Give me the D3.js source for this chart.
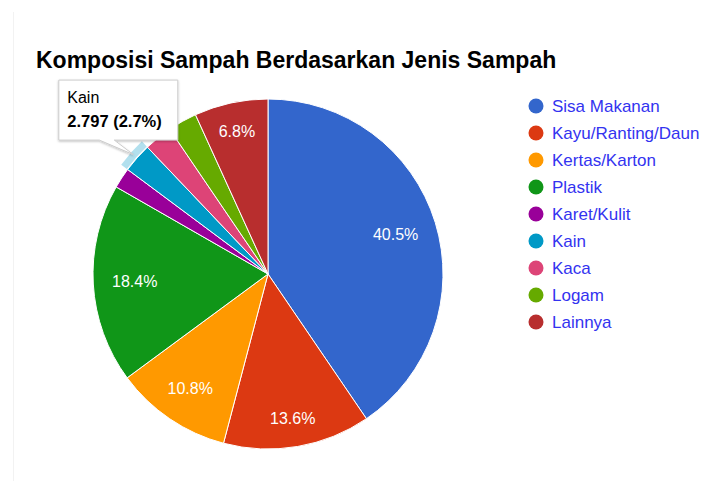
<!DOCTYPE html>
<html>
<head>
<meta charset="utf-8">
<script src="https://cdn.jsdelivr.net/npm/d3@7"></script>
<style>
  body { margin: 0; background: #fff; }
  svg { display: block; font-family: Arial, "Liberation Sans", sans-serif; }
</style>
</head>
<body>
<svg id="chart" width="703" height="481"></svg>
<script>
// data
const jenis = ["Sisa Makanan", "Kayu/Ranting/Daun", "Kertas/Karton", "Plastik", "Karet/Kulit", "Kain", "Kaca", "Logam", "Lainnya"];
const jumlah = [41.715, 14.008, 11.124, 18.952, 1.957, 2.797, 2.678, 2.781, 7.004];
const warna = ["#3366cc", "#dc3912", "#ff9900", "#109618", "#990099", "#0099c6", "#dd4477", "#66aa00", "#b82e2e"];
const judul = "Komposisi Sampah Berdasarkan Jenis Sampah";
const hoverIdx = 5; // Kain

const W = 703, H = 481;
const cx = 268, cy = 274, radius = 175;

const svg = d3.select("#chart");

// faint frame line on the left
svg.append("line")
    .attr("x1", 13.5).attr("x2", 13.5)
    .attr("y1", 12).attr("y2", H)
    .attr("stroke", "#f2f2f2");

// title
svg.append("text")
    .attr("x", 36)
    .attr("y", 68)
    .text(judul)
    .style("font-size", "23px")
    .style("font-weight", "bold")
    .attr("fill", "#000");

const data = jenis.map((d, i) => ({ label: d, value: jumlah[i], color: warna[i] }));
const total = d3.sum(jumlah);

const pie = d3.pie().sort(null).value(d => d.value);
const arcs = pie(data);
const arc = d3.arc().innerRadius(0).outerRadius(radius);

const g = svg.append("g").attr("transform", `translate(${cx},${cy})`);

g.selectAll("path.slice")
    .data(arcs)
    .enter()
    .append("path")
    .attr("class", "slice")
    .attr("d", arc)
    .attr("fill", d => d.data.color)
    .attr("stroke", "#fff")
    .attr("stroke-width", 1);

// hover halo on Kain
const halo = d3.arc().innerRadius(radius + 1).outerRadius(radius + 8);
g.append("path")
    .attr("d", halo(arcs[hoverIdx]))
    .attr("fill", warna[hoverIdx])
    .attr("opacity", 0.3);

// slice labels
const pct = d3.format(".1f");
arcs.forEach(a => {
    const p = a.data.value / total;
    if (p < 0.05) return;
    const mid = (a.startAngle + a.endAngle) / 2;
    const t = g.append("text")
        .text(pct(p * 100) + "%")
        .attr("fill", "#fff")
        .attr("text-anchor", "middle")
        .style("font-size", "16px");
    const bb = t.node().getBBox();
    const hw = bb.width / 2, hh = 5.7;
    const sx = Math.sin(mid), sy = -Math.cos(mid);
    // push label out until its farthest corner reaches the limit
    let dist = 100;
    for (let r = 100; r < 160; r += 0.5) {
        const x = sx * r, y = sy * r;
        const fx = Math.abs(x) + hw, fy = Math.abs(y) + hh;
        if (Math.hypot(fx, fy) > 157) break;
        dist = r;
    }
    t.attr("x", sx * dist).attr("y", sy * dist + hh);
});

// legend
const legend = svg.append("g").attr("transform", "translate(536,106)");
data.forEach((d, i) => {
    legend.append("circle")
        .attr("cx", 0)
        .attr("cy", i * 27)
        .attr("r", 7.5)
        .attr("fill", d.color);
    legend.append("text")
        .attr("x", 16)
        .attr("y", i * 27 + 6)
        .text(d.label)
        .attr("fill", "#3333f0")
        .style("font-size", "17px");
});

// tooltip for Kain
const ha = arcs[hoverIdx];
const hm = (ha.startAngle + ha.endAngle) / 2;
const tipX = cx + Math.sin(hm) * (radius + 5);
const tipY = cy - Math.cos(hm) * (radius + 5);
const bx = tipX - 75, by = tipY - 75, bw = 120, bh = 61;

const defs = svg.append("defs");
const flt = defs.append("filter").attr("id", "shadow").attr("x", "-20%").attr("y", "-20%").attr("width", "140%").attr("height", "150%");
flt.append("feDropShadow").attr("dx", 0).attr("dy", 1).attr("stdDeviation", 1.2).attr("flood-color", "#000").attr("flood-opacity", 0.25);

const tip = svg.append("g");
tip.append("path")
    .attr("d", `M${bx + 0.5},${by + 0.5} H${bx + bw - 0.5} V${by + bh - 0.5} H${bx + 56} L${tipX},${tipY} L${bx + 41},${by + bh - 0.5} H${bx + 0.5} Z`)
    .attr("fill", "#fff")
    .attr("stroke", "#cccccc")
    .attr("stroke-width", 1)
    .attr("filter", "url(#shadow)");
tip.append("text")
    .attr("x", bx + 9)
    .attr("y", by + 23)
    .text(jenis[hoverIdx])
    .attr("fill", "#000")
    .style("font-size", "16px");
tip.append("text")
    .attr("x", bx + 9)
    .attr("y", by + 47)
    .text(`${d3.format(".3f")(jumlah[hoverIdx])} (${pct(jumlah[hoverIdx] / total * 100)}%)`)
    .attr("fill", "#000")
    .style("font-size", "16.5px")
    .style("font-weight", "bold");
</script>
</body>
</html>
